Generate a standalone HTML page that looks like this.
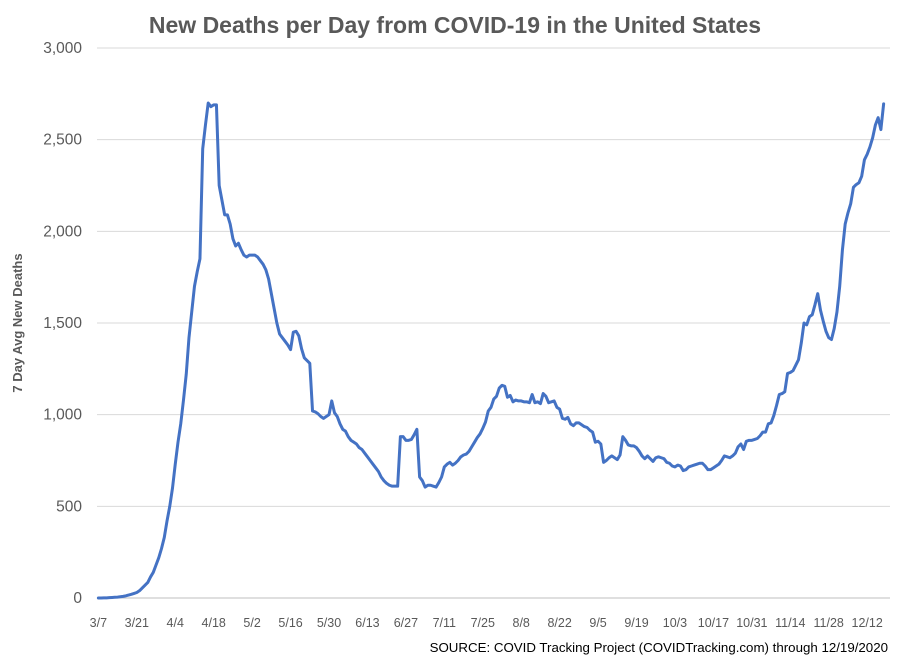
<!DOCTYPE html>
<html><head><meta charset="utf-8"><style>
body{margin:0;background:#fff;}
svg{display:block;font-family:"Liberation Sans",Calibri,sans-serif;}
</style></head><body>
<svg id="chart" width="910" height="660" viewBox="0 0 910 660" xmlns="http://www.w3.org/2000/svg">
<text x="455" y="33" text-anchor="middle" font-size="23" font-weight="bold" fill="#595959">New Deaths per Day from COVID-19 in the United States</text>
<text transform="translate(22,323) rotate(-90)" text-anchor="middle" font-size="13" font-weight="bold" fill="#595959">7 Day Avg New Deaths</text>
<text x="888" y="652" text-anchor="end" font-size="13.3" fill="#000">SOURCE: COVID Tracking Project (COVIDTracking.com) through 12/19/2020</text>
<g id="grid"></g><g id="yt"></g><g id="xt"></g><g id="series"></g>
</svg>
<script>
const yTicks=[0,500,1000,1500,2000,2500,3000];
const yTickLabels=["0","500","1,000","1,500","2,000","2,500","3,000"];
const xTickLabels=["3/7","3/21","4/4","4/18","5/2","5/16","5/30","6/13","6/27","7/11","7/25","8/8","8/22","9/5","9/19","10/3","10/17","10/31","11/14","11/28","12/12"];
const deaths=[0,0,1,1,2,3,4,5,7,9,12,16,20,25,30,40,55,70,85,115,140,180,220,270,330,420,500,600,730,850,950,1080,1220,1420,1560,1700,1780,1850,2450,2580,2700,2680,2690,2690,2250,2170,2090,2090,2040,1960,1920,1935,1900,1870,1860,1870,1870,1870,1860,1840,1820,1790,1740,1660,1580,1500,1440,1420,1400,1380,1355,1450,1455,1430,1360,1310,1295,1280,1020,1015,1005,990,980,990,1000,1075,1010,990,950,920,910,880,860,850,840,820,810,790,770,750,730,710,690,660,640,625,615,610,610,610,880,880,860,860,865,890,920,660,640,605,615,615,610,605,630,660,715,730,740,725,735,750,770,780,785,800,825,850,875,895,925,960,1020,1040,1085,1100,1145,1160,1155,1095,1105,1070,1080,1075,1075,1070,1070,1065,1110,1065,1070,1060,1115,1100,1065,1070,1075,1040,1030,980,975,985,950,940,955,955,945,935,930,915,905,850,855,840,740,750,765,775,765,755,780,880,860,835,830,830,820,800,775,760,775,760,745,765,770,765,760,740,735,720,715,725,720,695,700,715,720,725,730,735,735,720,700,700,710,720,730,750,775,770,765,775,790,825,840,810,855,860,860,865,870,885,905,905,950,955,995,1050,1110,1115,1125,1225,1230,1240,1270,1300,1390,1500,1490,1535,1545,1600,1660,1570,1510,1455,1420,1410,1470,1560,1700,1900,2040,2100,2150,2240,2255,2265,2300,2390,2420,2460,2510,2580,2620,2555,2695];
const tickEvery=14;
const NS="http://www.w3.org/2000/svg";
const L=97,R=885,GR=890,T=48,B=598,YMAX=3000;
const step=(R-L)/deaths.length;
const xs=i=>L+(i+0.5)*step;
const ys=v=>B-(v/YMAX)*(B-T);
function mk(tag,attrs,parent){const e=document.createElementNS(NS,tag);for(const k in attrs)e.setAttribute(k,attrs[k]);document.getElementById(parent).appendChild(e);return e;}
yTicks.forEach((v,i)=>{
  const g=mk('line',{x1:L,x2:GR,y1:ys(v),y2:ys(v),stroke:v===0?'#bfbfbf':'#d9d9d9','stroke-width':1},'grid');
  
  
  const t=mk('text',{x:82,y:ys(v)+5,'text-anchor':'end','font-size':15.5,fill:'#595959'},'yt');
  t.textContent=yTickLabels[i];
  
  
});
xTickLabels.forEach((lab,i)=>{
  const t=mk('text',{x:xs(i*tickEvery),y:627,'text-anchor':'middle','font-size':12.5,fill:'#595959'},'xt');
  t.textContent=lab;
  
  
});
const d=deaths.map((v,i)=>(i?'L':'M')+xs(i).toFixed(2)+','+ys(v).toFixed(2)).join('');
const p=mk('path',{d:d,fill:'none',stroke:'#4472c4','stroke-width':3,'stroke-linejoin':'round','stroke-linecap':'round'},'series');


</script>
</body></html>
